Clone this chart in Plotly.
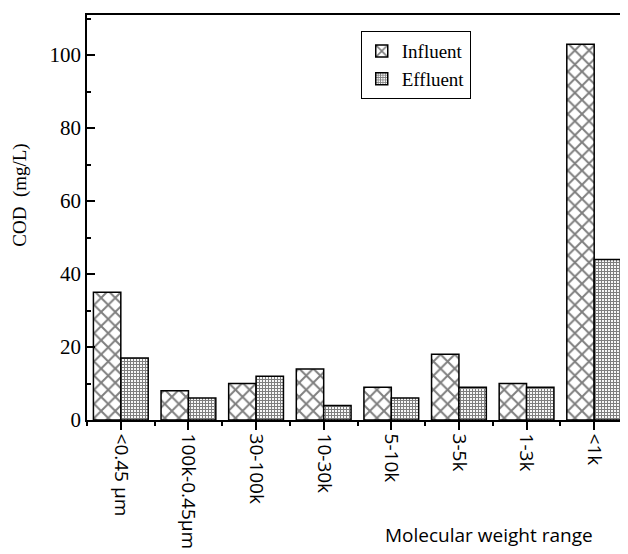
import plotly.graph_objects as go

categories = ["<0.45 µm", "100k-0.45µm", "30-100k", "10-30k", "5-10k", "3-5k", "1-3k", "<1k"]
influent = [35, 8, 10, 14, 9, 18, 10, 103]
effluent = [17, 6, 12, 4, 6, 9, 9, 44]
y_ticks = [0, 20, 40, 60, 80, 100]

xpos = list(range(len(categories)))

fig = go.Figure()
fig.add_trace(go.Bar(
    x=xpos, y=influent, name="Influent",
    marker=dict(color="white", line=dict(color="black", width=1.5),
                pattern=dict(shape="x", fgcolor="black", bgcolor="white", size=10, solidity=0.36)),
))
fig.add_trace(go.Bar(
    x=xpos, y=effluent, name="Effluent",
    marker=dict(color="white", line=dict(color="black", width=1.5),
                pattern=dict(shape="+", fgcolor="black", bgcolor="white", size=3, solidity=0.6)),
))

fig.update_layout(
    width=620, height=546,
    margin=dict(l=79, r=0, t=7, b=134, autoexpand=False),
    paper_bgcolor="white", plot_bgcolor="white",
    barmode="group", bargap=0.19, bargroupgap=0,
    showlegend=True,
    legend=dict(x=0.506, y=0.96, xanchor="left", yanchor="top",
                bordercolor="black", borderwidth=1, bgcolor="white",
                font=dict(family="Liberation Serif", size=19, color="black"),
                tracegroupgap=0, itemwidth=30),
    xaxis=dict(range=[-0.5, 7.5], tickmode="array", tickvals=xpos, ticktext=categories,
               tickangle=90, ticks="outside", ticklen=8, tickcolor="black", tickwidth=1.5,
               tickfont=dict(family="Open Sans", size=19, color="black"),
               showline=True, linecolor="black", linewidth=1.5, mirror=True,
               showgrid=False, zeroline=False, automargin=False,
               minor=dict(tickmode="linear", tick0=0.5, dtick=1, ticks="outside", ticklen=4, tickcolor="black", showgrid=False)),
    yaxis=dict(range=[0, 111], tickmode="array", tickvals=y_ticks,
               ticks="inside", ticklen=8, tickcolor="black", tickwidth=1.5,
               tickfont=dict(family="Liberation Serif", size=21, color="black"),
               showline=True, linecolor="black", linewidth=1.5, mirror=False,
               showgrid=False, zeroline=False, automargin=False,
               minor=dict(tickmode="linear", tick0=10, dtick=20, ticks="inside", ticklen=4, tickcolor="black", showgrid=False)),
    annotations=[
        dict(text="Molecular weight range", xref="paper", yref="paper", x=0.743, y=-0.284,
             xanchor="center", yanchor="middle", showarrow=False,
             font=dict(family="Open Sans", size=19, color="black")),
        dict(text="COD  (mg/L)", xref="paper", yref="paper", x=-0.124, y=0.556,
             xanchor="center", yanchor="middle", textangle=-90, showarrow=False,
             font=dict(family="Liberation Serif", size=19, color="black")),
    ],
)

fig.write_html("out.html")
